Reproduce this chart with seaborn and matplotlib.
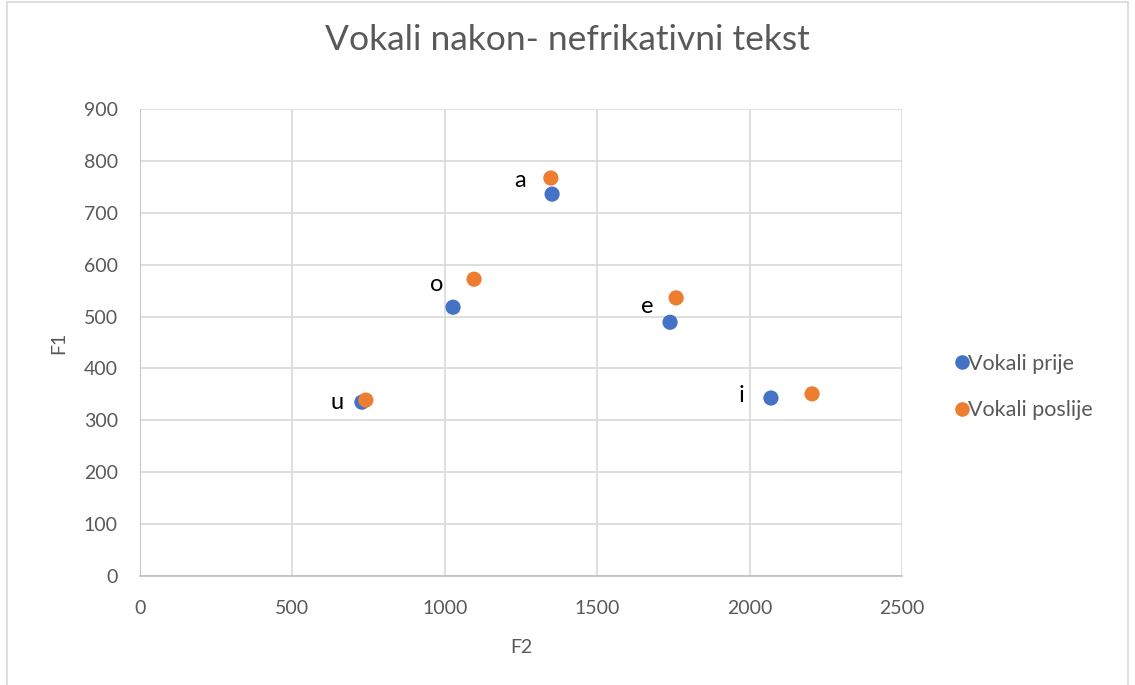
import matplotlib
matplotlib.use("Agg")
import matplotlib.pyplot as plt
import seaborn as sns
import pandas as pd
from matplotlib.lines import Line2D

vowels = ["u", "o", "a", "e", "i"]
f2_prije = [728, 1027, 1352, 1739, 2070]
f1_prije = [335, 518, 736, 489, 343]
f2_poslije = [741, 1096, 1348, 1759, 2205]
f1_poslije = [339, 572, 767, 536, 351]
series = ["Vokali prije", "Vokali poslije"]
colors = ["#4472C4", "#ED7D31"]
x_ticks = [0, 500, 1000, 1500, 2000, 2500]
y_ticks = [0, 100, 200, 300, 400, 500, 600, 700, 800, 900]

df = pd.DataFrame({
    "F2": f2_prije + f2_poslije,
    "F1": f1_prije + f1_poslije,
    "serija": [series[0]] * len(vowels) + [series[1]] * len(vowels),
})

sns.set_theme(style="white")
plt.rcParams["font.family"] = ["Lato", "DejaVu Sans"]

W, H = 1135, 685
fig = plt.figure(figsize=(W / 100, H / 100), dpi=100)
ax = fig.add_axes([140 / W, 1 - 576 / H, 762 / W, 467 / H])

sns.scatterplot(data=df, x="F2", y="F1", hue="serija", palette=colors,
                s=120, edgecolor="none", ax=ax, legend=False, zorder=3)

ax.set_xlim(0, 2500)
ax.set_ylim(0, 900)
ax.set_xticks(x_ticks)
ax.set_yticks(y_ticks)
ax.grid(True, color="#D9D9D9", linewidth=1.2, zorder=0)
for s in ["top", "right", "left"]:
    ax.spines[s].set_visible(False)
ax.spines["bottom"].set_color("#BFBFBF")
ax.spines["bottom"].set_linewidth(1.2)
ax.axvline(0, color="#BFBFBF", linewidth=1.2, zorder=1)
ax.tick_params(axis="both", length=0, labelsize=14, labelcolor="#595959")
ax.tick_params(axis="x", pad=17)
ax.tick_params(axis="y", pad=16)
ax.set_xlabel("F2", fontsize=14, color="#595959", labelpad=16)
ax.set_ylabel("F1", fontsize=14, color="#595959", labelpad=12)

# vowel labels (offsets in points relative to points)
offsets = {"u": (-21, -2), "o": (-27, -4), "a": (-22, -2), "e": (-21, -6), "i": (-21, 2)}
for i, v in enumerate(vowels):
    if v == "i":
        xx, yy = f2_prije[i], f1_prije[i]
    else:
        xx, yy = f2_poslije[i], f1_poslije[i]
    ax.annotate(v, (xx, yy), textcoords="offset points", xytext=offsets[v],
                ha="center", va="center", fontsize=17, color="#000000")

fig.text(0.5, 1 - 40 / H, "Vokali nakon- nefrikativni tekst", ha="center", va="center",
         fontsize=25.5, color="#595959")

handles = [Line2D([0], [0], marker="o", linestyle="none", markersize=10.5,
                  markerfacecolor=c, markeredgecolor="none") for c in colors]
fig.legend(handles, series, loc="center left", bbox_to_anchor=(938 / W, 1 - 387 / H),
           frameon=False, fontsize=15.5, labelcolor="#595959", handletextpad=-0.3,
           labelspacing=1.25, borderpad=0, handlelength=1.2)

# chart border
border_kw = dict(color="#D9D9D9", linewidth=1.2, transform=fig.transFigure)
fig.add_artist(Line2D([7 / W, 7 / W], [0, 1 - 2 / H], **border_kw))
fig.add_artist(Line2D([7 / W, 1128 / W], [1 - 2 / H, 1 - 2 / H], **border_kw))
fig.add_artist(Line2D([1128 / W, 1128 / W], [0, 1 - 2 / H], **border_kw))

fig.savefig("out.png", dpi=100)
